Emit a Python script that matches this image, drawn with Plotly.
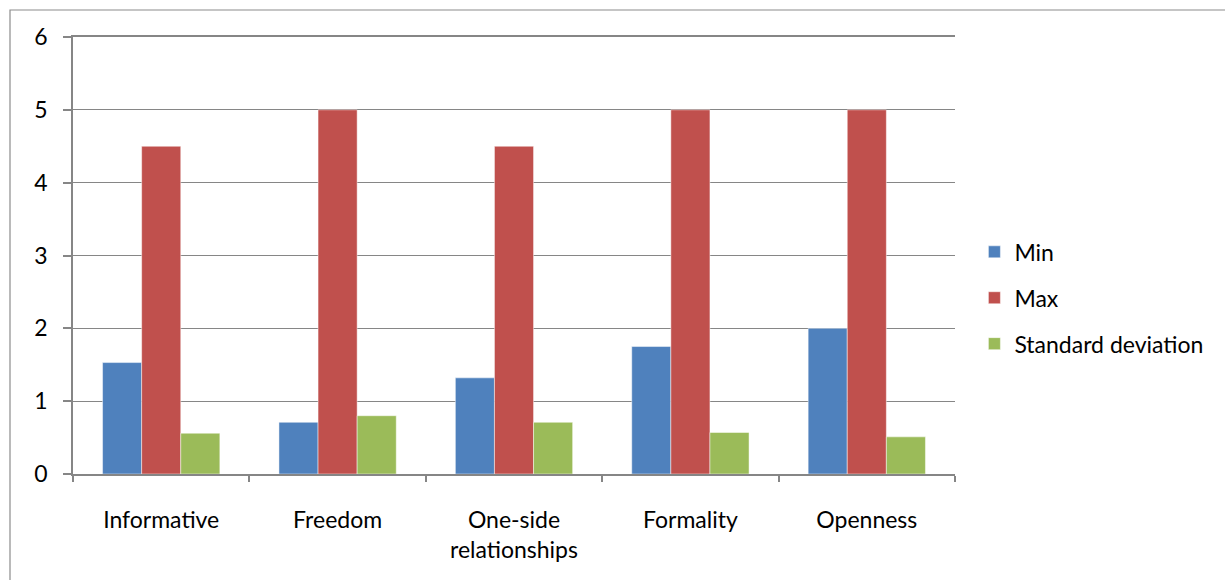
import plotly.graph_objects as go

categories = ["Informative", "Freedom", "One-side<br>relationships", "Formality", "Openness"]
min_vals = [1.53, 0.71, 1.32, 1.75, 2.0]
max_vals = [4.5, 5.0, 4.5, 5.0, 5.0]
sd_vals = [0.56, 0.80, 0.71, 0.57, 0.51]

series = [
    ("Min", min_vals, "#4F81BD"),
    ("Max", max_vals, "#C0504D"),
    ("Standard deviation", sd_vals, "#9BBB59"),
]

W, H = 1225, 580
L, R, T, B = 73, 270, 37, 106
FONT = "Lato, Calibri, Carlito, sans-serif"
FS = 23

fig = go.Figure()
for name, vals, color in series:
    fig.add_trace(go.Bar(
        x=categories, y=vals, name=name, legendgroup=name,
        marker=dict(color=color, line=dict(color="rgba(255,255,255,0.6)", width=0.8)),
    ))

pw = W - L - R
ph = H - T - B
# outer chart frame
fig.add_shape(type="rect", xref="paper", yref="paper",
              x0=(10 - L) / pw, x1=(W + 5 - L) / pw,
              y0=-(H + 5 - T - ph) / ph, y1=(ph + T - 10) / ph,
              line=dict(color="#8c8c8c", width=1.2), fillcolor="rgba(0,0,0,0)", layer="below")

fig.update_layout(
    width=W, height=H,
    margin=dict(l=L, r=R, t=T, b=B),
    paper_bgcolor="white", plot_bgcolor="white",
    barmode="group", bargap=0.335, bargroupgap=0,
    font=dict(family=FONT, size=FS, color="#000000"),
    showlegend=True,
    legend=dict(x=1.022, xanchor="left", y=0.403, yanchor="middle",
                traceorder="grouped", tracegroupgap=13,
                font=dict(family=FONT, size=FS, color="#000000")),
    xaxis=dict(showline=True, linecolor="#868686", linewidth=1.5, mirror=True,
               ticks="outside", tickson="boundaries", ticklen=6, tickcolor="#868686",
               tickwidth=1.5, showgrid=False, tickfont=dict(size=FS),
               ticklabelstandoff=25),
    yaxis=dict(range=[0, 6], dtick=1, showline=True, linecolor="#868686", linewidth=1.5,
               ticks="outside", ticklen=8, tickcolor="#868686", tickwidth=1.5,
               showgrid=True, gridcolor="#868686", gridwidth=1.2, zeroline=False,
               ticklabelstandoff=11, tickfont=dict(size=FS)),
)

fig.write_html("out.html")
